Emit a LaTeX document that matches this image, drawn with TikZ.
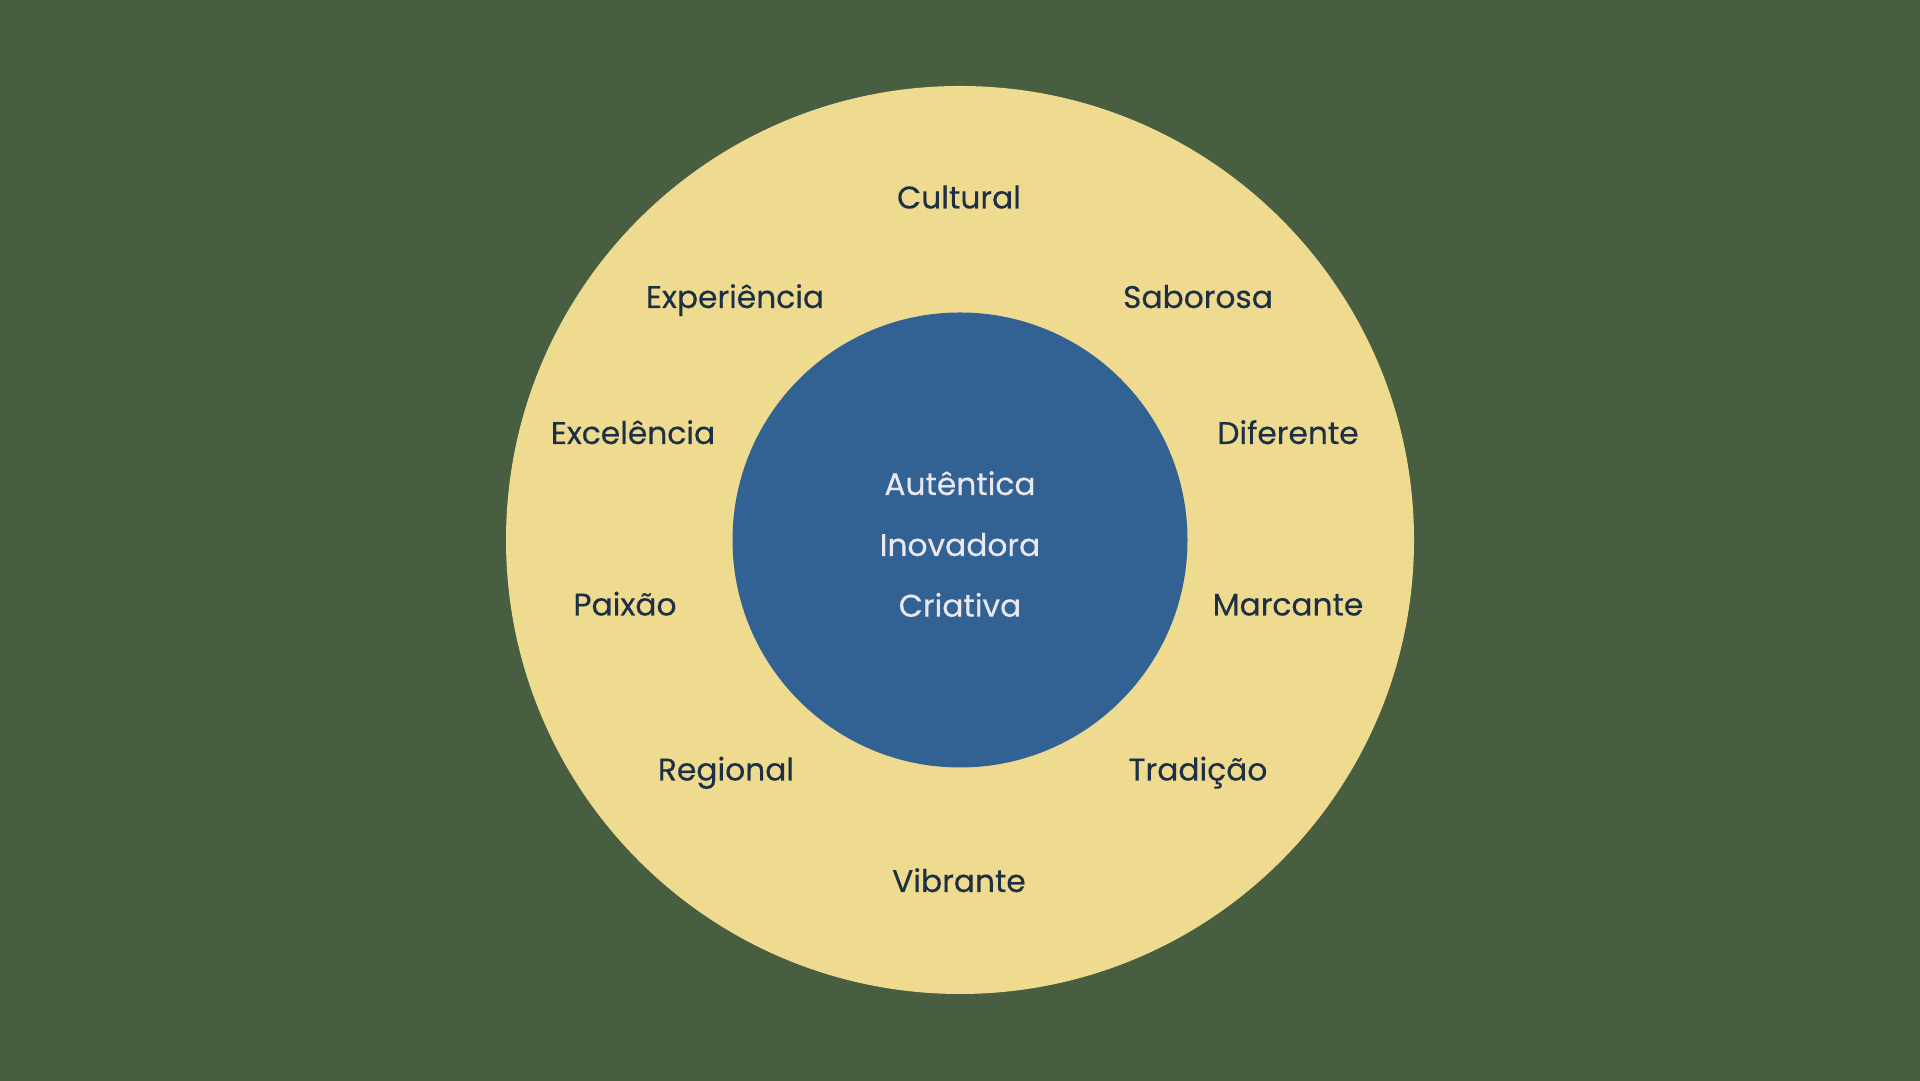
\documentclass[tikz,border=0pt]{standalone}
\usepackage{fontspec}
\setmainfont{Poppins}
\newfontfamily\wordfont{Poppins}[FakeBold=0.35]
\usepackage{tikz}
\usetikzlibrary{positioning}
\definecolor{dBack}{RGB}{72,94,65}
\definecolor{dRing}{RGB}{239,219,144}
\definecolor{dCore}{RGB}{50,97,148}
\definecolor{dInk}{RGB}{28,47,69}
\definecolor{dPale}{RGB}{234,232,238}
\tikzset{
  ring/.style={circle, fill=dRing, minimum size=90.8mm, inner sep=0pt},
  hub/.style={circle, fill=dCore, minimum size=45.5mm, inner sep=0pt},
  word/.style={anchor=base, text=dInk, inner sep=0pt,
               font=\wordfont\fontsize{8.9}{10}\selectfont},
  core/.style={word, text=dPale},
}
\newcommand{\Word}[4][word]{% {style}{name}{at}{text}
  \node[#1] (#2) at (#3) {#4};}

\begin{document}
\begin{tikzpicture}
  \fill[dBack] (0,0) rectangle (19.2,10.81);
  \useasboundingbox (0,0) rectangle (19.2,10.81);
  \node[ring] (outer) at (9.6,5.41) {};
  \node[hub] (inner) at (outer.center) {};
  % outer ring
  \Word{cult}{9.59,8.725}{Cultural}
  \Word{expe}{7.35,7.73}{Experiência}
  \Word{sabo}{11.98,7.73}{Saborosa}
  \Word{exce}{6.33,6.37}{Excelência}
  \Word{dife}{12.88,6.37}{Diferente}
  \Word{paix}{6.25,4.655}{Paixão}
  \Word{marc}{12.88,4.655}{Marcante}
  \Word{regi}{7.26,3.005}{Regional}
  \Word{trad}{11.98,3.005}{Tradição}
  \Word{vibr}{9.59,1.89}{Vibrante}
  % core
  \Word[core]{aute}{9.6,5.86}{Autêntica}
  \Word[core]{inov}{9.6,5.25}{Inovadora}
  \Word[core]{cria}{9.6,4.643}{Criativa}
\end{tikzpicture}
\end{document}
